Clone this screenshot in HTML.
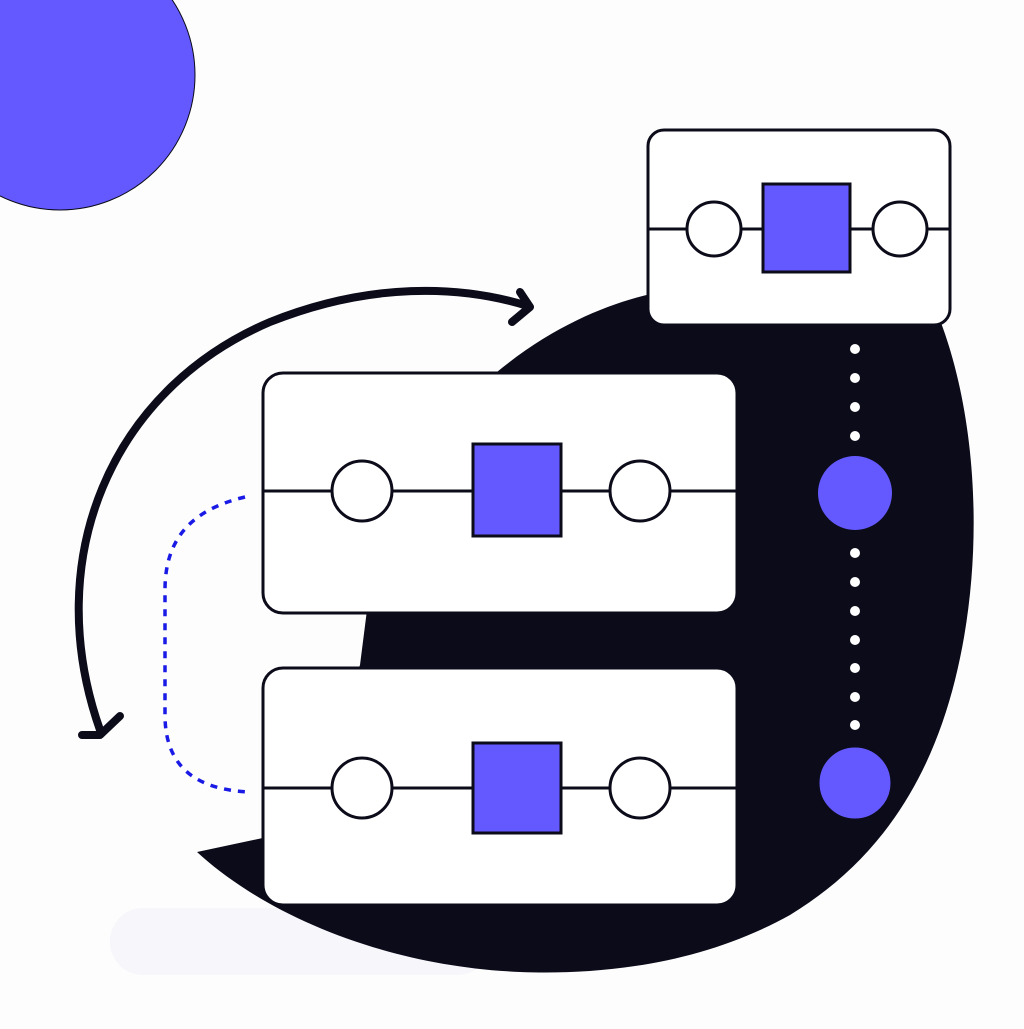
<!DOCTYPE html>
<html><head><meta charset="utf-8"><style>html,body{margin:0;padding:0;background:#fdfdfd}</style></head>
<body>
<svg width="1024" height="1024" viewBox="0 0 1024 1024" xmlns="http://www.w3.org/2000/svg">
<rect width="1024" height="1024" fill="#fdfdfd"/>
<circle cx="60" cy="75" r="135" fill="#6459fe" stroke="#0b0b1a" stroke-width="1"/>
<rect x="110" y="908" width="380" height="67" rx="33" fill="#f6f6fb"/>
<path d="M497 372 C560 320 620 300 660 292 L940 320 C978 420 985 560 955 680 C930 780 880 860 790 915 C700 965 600 975 520 972 C380 966 262 912 197 852 L300 830 L360 665 L367 610 Z" fill="#0b0b1a"/>
<path d="M100 730 C40 560 110 390 270 322 C370 282 460 285 528 306" fill="none" stroke="#0b0b1a" stroke-width="8" stroke-linecap="round"/>
<path d="M520 292 L530 307 L512 322" fill="none" stroke="#0b0b1a" stroke-width="8" stroke-linecap="round" stroke-linejoin="round"/>
<path d="M82 735 L100 735 L120 716" fill="none" stroke="#0b0b1a" stroke-width="8" stroke-linecap="round" stroke-linejoin="round"/>
<path d="M245 497 C190 510 165 540 165 590 L165 715 C165 770 200 790 250 792" fill="none" stroke="#1a1ae6" stroke-width="3.5" stroke-dasharray="7 7"/>
<g stroke="#0b0b1a" stroke-width="3">
<rect x="648" y="130" width="302" height="195" rx="16" fill="#fff"/>
<line x1="648" y1="229" x2="950" y2="229"/>
<circle cx="714" cy="229" r="27" fill="#fff"/><circle cx="900" cy="229" r="27" fill="#fff"/>
<rect x="763" y="184" width="87" height="88" fill="#6459fe"/>
<rect x="263" y="373" width="474" height="240" rx="20" fill="#fff"/>
<line x1="263" y1="491" x2="737" y2="491"/>
<circle cx="362" cy="491" r="30" fill="#fff"/><circle cx="640" cy="491" r="30" fill="#fff"/>
<rect x="473" y="444" width="88" height="92" fill="#6459fe"/>
<rect x="263" y="668" width="474" height="237" rx="20" fill="#fff"/>
<line x1="263" y1="788" x2="737" y2="788"/>
<circle cx="362" cy="788" r="30" fill="#fff"/><circle cx="640" cy="788" r="30" fill="#fff"/>
<rect x="473" y="743" width="88" height="90" fill="#6459fe"/>
</g>
<g fill="#fff">
<circle cx="855" cy="349" r="5"/><circle cx="855" cy="378" r="5"/><circle cx="855" cy="407" r="5"/><circle cx="855" cy="436" r="5"/>
<circle cx="855" cy="553" r="5"/><circle cx="855" cy="582" r="5"/><circle cx="855" cy="611" r="5"/><circle cx="855" cy="640" r="5"/><circle cx="855" cy="668" r="5"/><circle cx="855" cy="697" r="5"/><circle cx="855" cy="725" r="5"/>
</g>
<circle cx="855" cy="493" r="37" fill="#6459fe"/>
<circle cx="855" cy="783" r="37" fill="#6459fe" stroke="#0b0b1a" stroke-width="3"/>
</svg>
</body></html>
